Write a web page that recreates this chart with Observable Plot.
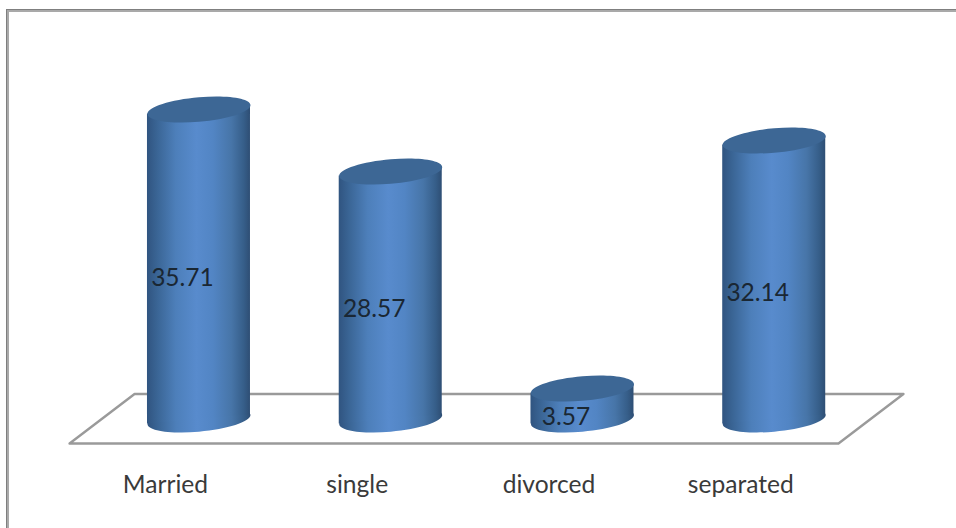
<!DOCTYPE html>
<html>
<head>
<meta charset="utf-8">
<script src="https://cdn.jsdelivr.net/npm/d3@7"></script>
<script src="https://cdn.jsdelivr.net/npm/@observablehq/plot@0.6"></script>
<style>
  html, body { margin: 0; padding: 0; background: #fff; }
  #chart { position: relative; width: 956px; height: 528px; overflow: hidden; }
  #chart svg { display: block; }
  #border {
    position: absolute; left: 7px; top: 10px; right: -6px; bottom: -6px;
    border-left: 2px solid #a9a9a9; border-top: 2px solid #a9a9a9;
    box-shadow: -1px -1px 0 #7f7f7f; pointer-events: none;
  }
</style>
</head>
<body>
<div id="chart"><div id="border"></div></div>
<script>
// Marital status shares, in percent
const categories = ["Married", "single", "divorced", "separated"];
const percentages = [35.71, 28.57, 3.57, 32.14];

// Corners of the floor plane, in category position and percent units
const floorX = [-0.336, 3.674, 3.335, -0.675];
const floorY = [2.94, 2.94, -2.76, -2.76];

const rows = categories.map((name, i) => ({name, i, value: percentages[i]}));

const halfWidth = 0.2686;   // half a cylinder, in category positions
const radius = 51.5;        // cylinder radius, in pixels
const squash = 0.237;       // ellipse height over width
const tilt = -0.085;        // rise of the ellipses from left to right

// A circle seen from above and sheared, drawn as a symbol for the dot mark
const ellipseSymbol = {
  draw(context, size) {
    const a = Math.sqrt(size / Math.PI);
    const b = a * squash;
    const k = 0.5522848;
    const P = (u, v) => [u * a, v * b + u * a * tilt];
    context.moveTo(...P(1, 0));
    context.bezierCurveTo(...P(1, k), ...P(k, 1), ...P(0, 1));
    context.bezierCurveTo(...P(-k, 1), ...P(-1, k), ...P(-1, 0));
    context.bezierCurveTo(...P(-1, -k), ...P(-k, -1), ...P(0, -1));
    context.bezierCurveTo(...P(k, -1), ...P(1, -k), ...P(1, 0));
    context.closePath();
  }
};

// Horizontal shading that gives the cylinder walls their roundness
function gradientDefs() {
  const svg = d3.create("svg:defs");
  const g = svg.append("linearGradient").attr("id", "wall");
  [[0, "#305480"], [0.1, "#3a6595"], [0.28, "#4d7fba"], [0.48, "#588bcd"],
   [0.64, "#5285c4"], [0.82, "#4775a8"], [0.94, "#365e89"], [1, "#2e4e74"]]
    .forEach(([o, c]) => g.append("stop").attr("offset", o).attr("stop-color", c));
  return svg.node();
}

// Shears each wall so its ends follow the tilted ellipses
function shearWalls(index, scales, values, dimensions, context, next) {
  const g = next(index, scales, values, dimensions, context);
  d3.select(g).selectAll("rect").attr("transform", function () {
    const cx = +this.getAttribute("x") + this.getAttribute("width") / 2;
    return `matrix(1 ${tilt} 0 1 0 ${-tilt * cx})`;
  });
  return g;
}

const chart = Plot.plot({
  width: 956,
  height: 528,
  marginLeft: 102.6,
  marginRight: 86.4,
  marginTop: 71.8,
  marginBottom: 109,
  style: {background: "transparent", overflow: "visible"},
  x: {domain: [-0.5, 3.5]},
  y: {domain: [0, 40], axis: null},
  marks: [
    gradientDefs,
    Plot.line(floorX, {
      x: floorX, y: floorY, curve: "linear-closed",
      stroke: "#9a9a9a", strokeWidth: 2.4
    }),
    Plot.dot(rows, {
      x: "i", y: () => 0, r: radius, symbol: ellipseSymbol,
      fill: "url(#wall)", stroke: "none"
    }),
    Plot.rect(rows, {
      x1: d => d.i - halfWidth, x2: d => d.i + halfWidth,
      y1: () => 0, y2: "value",
      fill: "url(#wall)", render: shearWalls
    }),
    Plot.dot(rows, {
      x: "i", y: "value", r: radius, symbol: ellipseSymbol,
      fill: "#3d6795", stroke: "none"
    }),
    Plot.text(rows, {
      x: "i", y: d => d.value / 2, text: d => d.value.toFixed(2),
      dx: -16.5, dy: 13.5, fontSize: 24.5, fontFamily: "Lato",
      fill: "#1a2733"
    }),
    Plot.axisX({
      ticks: [0, 1, 2, 3], tickFormat: i => categories[i],
      tickSize: 0, tickPadding: 56, dx: -33.5,
      fontSize: 24.6, fontFamily: "Lato", color: "#3a3a3a", label: null
    })
  ]
});

document.getElementById("chart").prepend(chart);
</script>
</body>
</html>
